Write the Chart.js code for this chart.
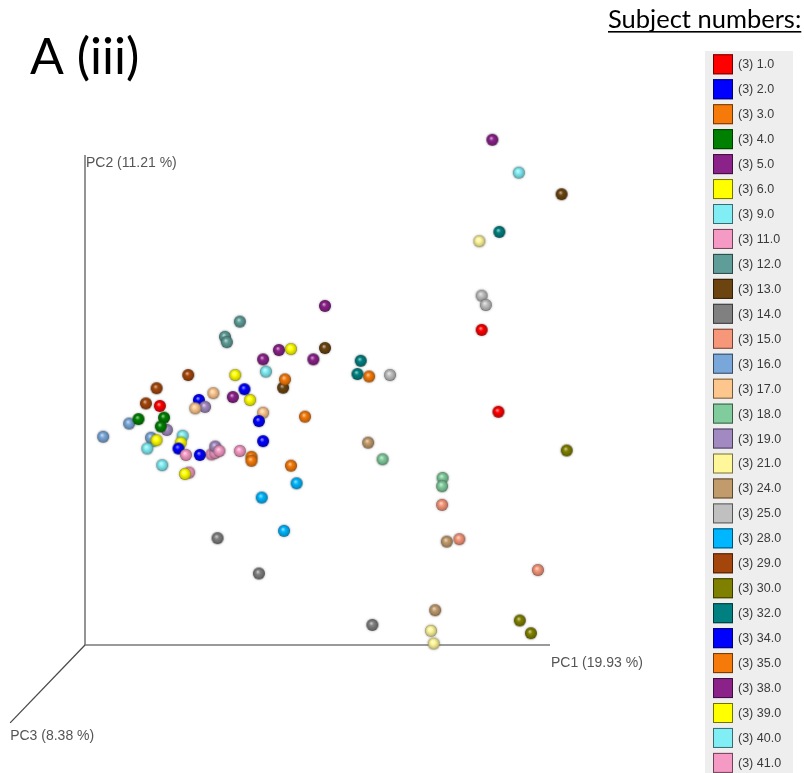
<!DOCTYPE html>
<html>
<head>
<meta charset="utf-8">
<script src="https://cdn.jsdelivr.net/npm/chart.js@4/dist/chart.umd.min.js"></script>
<style>
  html, body { margin: 0; padding: 0; background: #ffffff; }
  #wrap { position: relative; width: 804px; height: 773px; }
</style>
</head>
<body>
<div id="wrap"><canvas id="pcoa" width="804" height="773"></canvas></div>
<script>
// Subjects, three samples each, shown in the side legend
const subjects = ['1.0','2.0','3.0','4.0','5.0','6.0','9.0','11.0','12.0','13.0','14.0','15.0','16.0','17.0',
  '18.0','19.0','21.0','24.0','25.0','28.0','29.0','30.0','32.0','34.0','35.0','38.0','39.0','40.0','41.0'];
const sampleCounts = [3,3,3,3,3,3,3,3,3,3,3,3,3,3,3,3,3,3,3,3,3,3,3,3,3,3,3,3,3];
const subjectColors = ['#ff0000','#0000ff','#f57a0a','#008000','#8a2289','#ffff00','#80eef4','#f59ac4','#5f9e98',
  '#6b4410','#808080','#f7977a','#7aa7d9','#fcc68d','#80cc9c','#a389c1','#fff79a','#c29b6c','#c0c0c0',
  '#00b6ff','#a4460b','#808000','#008080','#0000ff','#f57a0a','#8a2289','#ffff00','#80eef4','#f59ac4'];

// Projected positions of each sample in the PC1 / PC2 view (percent of axis length)
const pc1View = [
  [16.1, 85.3, 88.9], [34.3, 37.4, 24.7], [43.0, 47.3, 35.8], [11.5, 17.0, 16.3], [51.6, 38.3, 87.6],
  [44.3, 15.4, 21.5], [38.9, 13.4, 93.3], [21.7, 28.9, 22.4], [33.3, 30.1, 30.5], [51.6, 42.6, 102.5],
  [28.5, 37.4, 61.8], [76.8, 80.5, 97.4], [3.9, 9.5, 14.2], [27.6, 23.7, 38.3], [76.9, 76.8, 64.0],
  [25.8, 17.6, 28.0], [84.8, 74.4, 75.0], [60.9, 77.8, 75.3], [65.6, 85.3, 86.2], [45.5, 38.0, 42.8],
  [22.2, 15.4, 13.1], [103.6, 93.5, 95.9], [59.3, 58.6, 89.1], [24.5, 20.1, 38.3], [61.1, 35.8, 44.3],
  [41.7, 49.1, 31.8], [32.3, 35.5, 20.6], [21.0, 16.6, 14.6], [27.2, 33.3, 28.0]
];
const pc2View = [
  [48.8, 64.3, 47.6], [52.2, 45.7, 38.8], [54.2, 46.6, 37.6], [46.1, 46.4, 44.6], [69.2, 58.3, 103.1],
  [60.4, 41.8, 34.9], [55.8, 40.1, 96.4], [38.8, 39.6, 35.2], [66.0, 62.9, 61.8], [60.6, 52.5, 92.0],
  [21.8, 14.6, 4.1], [28.6, 21.6, 15.3], [42.5, 45.2, 42.3], [51.4, 48.3, 47.4], [34.1, 32.4, 37.9],
  [48.6, 43.9, 40.5], [82.4, 2.9, 0.3], [41.3, 21.1, 7.1], [55.1, 71.3, 69.4], [33.0, 30.1, 23.3],
  [55.1, 52.4, 49.3], [39.7, 5.0, 2.4], [58.0, 55.3, 84.3], [50.0, 40.1, 41.6], [54.8, 38.4, 36.6],
  [60.2, 58.3, 50.6], [55.1, 50.0, 41.3], [42.7, 36.7, 41.6], [38.9, 39.6, 39.2]
];

const axisTitles = ['PC1 (19.93 %)', 'PC2 (11.21 %)', 'PC3 (8.38 %)'];
const panelTitle = 'A (iii)';
const legendTitle = 'Subject numbers:';

// Mix a hex colour toward another hex colour
function mix(a, b, t) {
  const pa = [1, 3, 5].map(i => parseInt(a.slice(i, i + 2), 16));
  const pb = [1, 3, 5].map(i => parseInt(b.slice(i, i + 2), 16));
  const m = pa.map((v, i) => Math.round(v + (pb[i] - v) * t));
  return 'rgb(' + m.join(',') + ')';
}

// Shaded ball sprite used as the point style
function sphere(color, r) {
  const pad = 3;
  const size = 2 * (r + pad);
  const c = document.createElement('canvas');
  c.width = size; c.height = size;
  const g = c.getContext('2d');
  const cx = size / 2, cy = size / 2;
  g.shadowColor = 'rgba(60,60,60,0.45)';
  g.shadowBlur = 2.5;
  const grad = g.createRadialGradient(cx - r * 0.2, cy - r * 0.3, r * 0.05, cx, cy, r);
  grad.addColorStop(0, mix(color, '#ffffff', 0.6));
  grad.addColorStop(0.35, color);
  grad.addColorStop(0.82, mix(color, '#000000', 0.2));
  grad.addColorStop(1, mix(color, '#000000', 0.45));
  g.fillStyle = grad;
  g.beginPath();
  g.arc(cx, cy, r, 0, Math.PI * 2);
  g.fill();
  return c;
}

const datasets = subjects.map((s, i) => ({
  label: '(' + sampleCounts[i] + ') ' + s,
  data: pc1View[i].map((x, j) => ({ x: x, y: pc2View[i][j] })),
  backgroundColor: subjectColors[i],
  borderColor: subjectColors[i],
  pointStyle: sphere(subjectColors[i], 6),
  pointRadius: 6,
  clip: false
}));

// Axis lengths in view units, and the far end of the receding PC3 axis
const axisLength = 100;
const pc3AxisEnd = { x: -16.1, y: -15.9 };

const axesPlugin = {
  id: 'axes3d',
  beforeDatasetsDraw(chart) {
    const ctx = chart.ctx;
    const xs = chart.scales.x, ys = chart.scales.y;
    const ox = xs.getPixelForValue(0), oy = ys.getPixelForValue(0);
    const x1 = xs.getPixelForValue(axisLength), y2 = ys.getPixelForValue(axisLength);
    const x3 = xs.getPixelForValue(pc3AxisEnd.x), y3 = ys.getPixelForValue(pc3AxisEnd.y);
    ctx.save();
    ctx.lineCap = 'butt';
    ctx.strokeStyle = '#7a7a7a';
    ctx.lineWidth = 1.6;
    ctx.beginPath();
    ctx.moveTo(ox, oy); ctx.lineTo(x1, oy);
    ctx.moveTo(ox, oy); ctx.lineTo(ox, y2);
    ctx.stroke();
    ctx.strokeStyle = '#4a4a4a';
    ctx.lineWidth = 1.3;
    ctx.beginPath();
    ctx.moveTo(ox, oy); ctx.lineTo(x3, y3);
    ctx.stroke();

    ctx.fillStyle = '#555555';
    ctx.font = '14px "Liberation Sans", Arial, sans-serif';
    ctx.textAlign = 'left';
    ctx.textBaseline = 'middle';
    ctx.fillText(axisTitles[0], x1 + 1, oy + 18);
    ctx.fillText(axisTitles[1], ox + 1, y2 + 8);
    ctx.fillText(axisTitles[2], x3, y3 + 13);
    ctx.restore();
  }
};

const legendPlugin = {
  id: 'sideLegend',
  afterDraw(chart) {
    const ctx = chart.ctx;
    ctx.save();
    // panel heading
    ctx.fillStyle = '#000000';
    ctx.font = '50px Lato, "Open Sans", sans-serif';
    ctx.textAlign = 'left';
    ctx.textBaseline = 'alphabetic';
    ctx.fillText(panelTitle, 30, 74);

    // legend heading, underlined
    ctx.font = '25.5px Lato, "Open Sans", sans-serif';
    ctx.fillText(legendTitle, 608, 28);
    const w = ctx.measureText(legendTitle).width;
    ctx.fillRect(608, 31, w, 1.6);

    // legend box
    ctx.fillStyle = '#eeeeee';
    ctx.fillRect(705, 51, 88, 730);

    ctx.font = '12.5px "Liberation Sans", Arial, sans-serif';
    ctx.textBaseline = 'middle';
    chart.data.datasets.forEach((ds, i) => {
      const cy = 64.3 + i * 24.95;
      ctx.fillStyle = ds.backgroundColor;
      ctx.fillRect(713, cy - 10, 20, 20);
      ctx.strokeStyle = mix(ds.backgroundColor, '#000000', 0.55);
      ctx.lineWidth = 1;
      ctx.strokeRect(713.5, cy - 9.5, 19, 19);
      ctx.fillStyle = '#3a3a3a';
      ctx.fillText(ds.label, 738, cy + 0.5);
    });
    ctx.restore();
  }
};

new Chart(document.getElementById('pcoa'), {
  type: 'scatter',
  data: { datasets: datasets },
  options: {
    responsive: false,
    devicePixelRatio: 1,
    animation: false,
    // scales run a little past the axis ends so the outlying samples stay inside the plot area
    layout: { padding: { left: 85, right: 207.5, top: 106, bottom: 128 } },
    scales: {
      x: { type: 'linear', min: 0, max: 110, display: false },
      y: { type: 'linear', min: 0, max: 110, display: false }
    },
    plugins: {
      legend: { display: false },
      tooltip: { enabled: false }
    },
    events: []
  },
  plugins: [axesPlugin, legendPlugin]
});
</script>
</body>
</html>
